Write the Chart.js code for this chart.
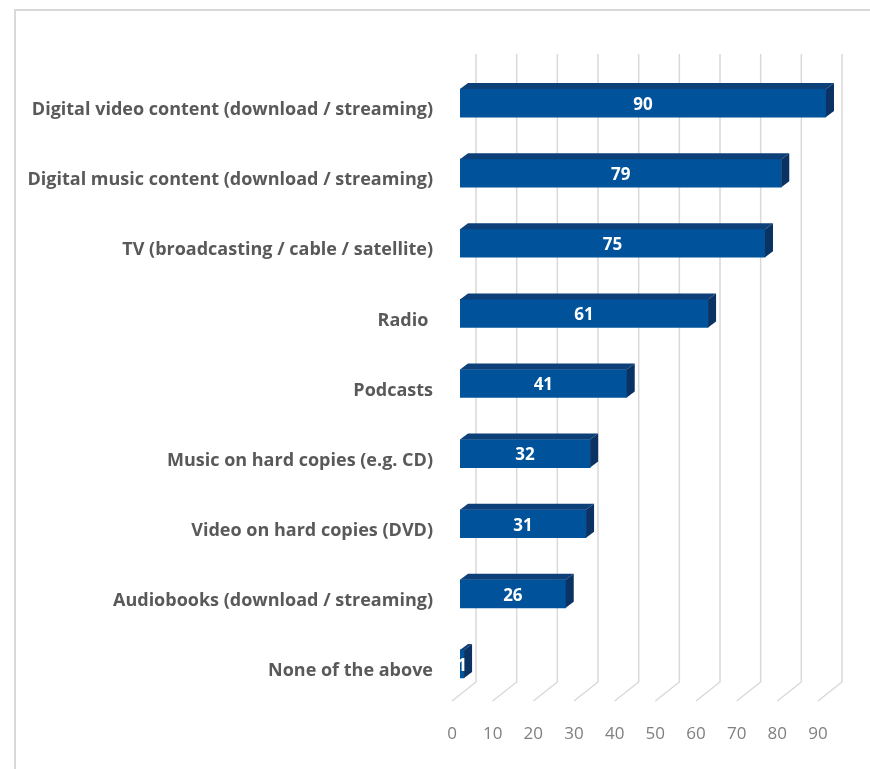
<!DOCTYPE html>
<html>
<head>
<meta charset="utf-8">
<script src="https://cdn.jsdelivr.net/npm/chart.js@4"></script>
<style>
  html, body { margin: 0; padding: 0; background: #fff; }
  #wrap { position: relative; width: 870px; height: 769px; }
</style>
</head>
<body>
<div id="wrap"><canvas id="chart" width="870" height="769"></canvas></div>
<script>
const categories = [
  'Digital video content (download / streaming)',
  'Digital music content (download / streaming)',
  'TV (broadcasting / cable / satellite)',
  'Radio ',
  'Podcasts',
  'Music on hard copies (e.g. CD)',
  'Video on hard copies (DVD)',
  'Audiobooks (download / streaming)',
  'None of the above'
];
const values = [90, 79, 75, 61, 41, 32, 31, 26, 1];
const xTicks = [0, 10, 20, 30, 40, 50, 60, 70, 80, 90];

// 3D look: bar depth and back-wall offset, relative to the bar front face
const BAR_DX = 8, BAR_DY = -6;
const FRONT_DX = -8, FRONT_DY = 6;
const BACK_DX = 16, BACK_DY = -13;

const frame3d = {
  id: 'frame3d',
  beforeDraw(chart) {
    const ctx = chart.ctx;
    ctx.save();
    ctx.strokeStyle = '#d9d9d9';
    ctx.lineWidth = 2;
    ctx.beginPath();
    ctx.moveTo(15, 769);
    ctx.lineTo(15, 10);
    ctx.lineTo(870, 10);
    ctx.stroke();
    ctx.restore();
  },
  beforeDatasetsDraw(chart) {
    const ctx = chart.ctx;
    const xs = chart.scales.x;
    const area = chart.chartArea;
    const bottom = area.bottom - 4;
    ctx.save();
    ctx.strokeStyle = '#d9d9d9';
    ctx.lineWidth = 1.5;
    xTicks.forEach(v => {
      const x = xs.getPixelForValue(v);
      ctx.beginPath();
      ctx.moveTo(x + BACK_DX, 54);
      ctx.lineTo(x + BACK_DX, bottom + BACK_DY);
      ctx.lineTo(x + FRONT_DX, bottom + FRONT_DY);
      ctx.stroke();
    });
    ctx.restore();
  },
  afterDatasetsDraw(chart) {
    const ctx = chart.ctx;
    const meta = chart.getDatasetMeta(0);
    ctx.save();
    meta.data.forEach((bar, i) => {
      const p = bar.getProps(['x', 'y', 'base', 'height'], true);
      const l = p.base, r = p.x, t = p.y - p.height / 2, b = p.y + p.height / 2;
      // top face
      ctx.fillStyle = '#0d3f78';
      ctx.beginPath();
      ctx.moveTo(l, t);
      ctx.lineTo(l + BAR_DX, t + BAR_DY);
      ctx.lineTo(r + BAR_DX, t + BAR_DY);
      ctx.lineTo(r, t);
      ctx.closePath();
      ctx.fill();
      // side face
      ctx.fillStyle = '#0a3262';
      ctx.beginPath();
      ctx.moveTo(r, t);
      ctx.lineTo(r + BAR_DX, t + BAR_DY);
      ctx.lineTo(r + BAR_DX, b + BAR_DY);
      ctx.lineTo(r, b);
      ctx.closePath();
      ctx.fill();
      // value label
      ctx.fillStyle = '#ffffff';
      ctx.font = 'bold 17px "Open Sans"';
      ctx.textAlign = 'center';
      ctx.textBaseline = 'middle';
      ctx.fillText(String(values[i]), (l + r) / 2, p.y + 2);
    });
    ctx.restore();
  }
};

new Chart(document.getElementById('chart'), {
  type: 'bar',
  data: {
    labels: categories,
    datasets: [{
      data: values,
      backgroundColor: '#00539b',
      borderWidth: 0,
      barThickness: 28
    }]
  },
  options: {
    indexAxis: 'y',
    responsive: false,
    animation: false,
    layout: { padding: { left: 0, top: 68, right: 44, bottom: 10 } },
    plugins: {
      legend: { display: false },
      tooltip: { enabled: false }
    },
    scales: {
      x: {
        min: 0,
        max: 90,
        afterFit(scale) { scale.height = 60; },
        afterBuildTicks(scale) { scale.ticks = xTicks.map(v => ({ value: v })); },
        grid: { display: false, drawTicks: false },
        border: { display: false },
        ticks: {
          color: '#7f7f7f',
          font: { family: 'Open Sans', size: 17 },
          padding: 25,
          labelOffset: -8,
          maxRotation: 0
        }
      },
      y: {
        afterFit(scale) { scale.width = 460; },
        grid: { display: false, drawTicks: false },
        border: { display: false },
        ticks: {
          color: '#595959',
          font: { family: 'Open Sans', size: 18, weight: 'bold' },
          padding: 27,
          labelOffset: 7
        }
      }
    }
  },
  plugins: [frame3d]
});
</script>
</body>
</html>
